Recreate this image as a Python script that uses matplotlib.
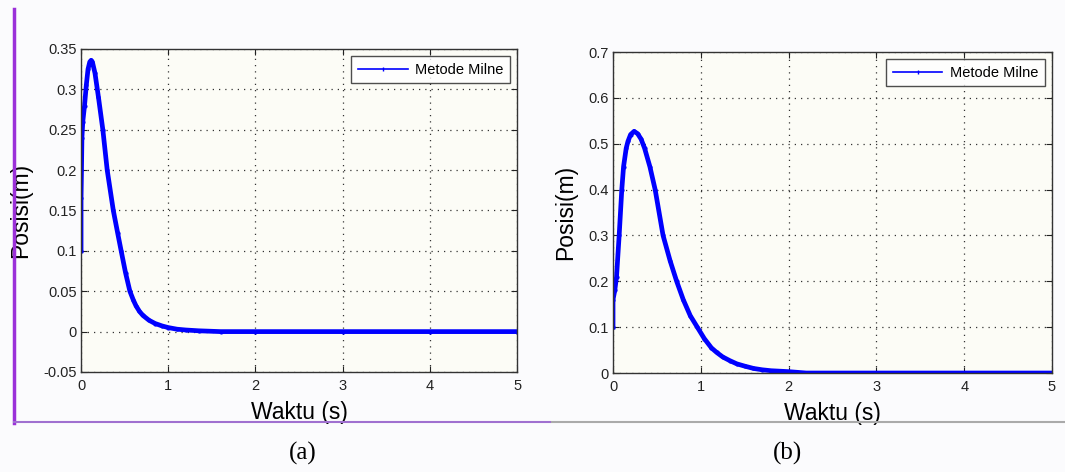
import numpy as np
import matplotlib
matplotlib.use('Agg')
import matplotlib.pyplot as plt
from matplotlib.lines import Line2D

plt.rcParams['font.family'] = ['Liberation Sans', 'DejaVu Sans']

# Panel (a): position vs time
t_a = [0.0, 0.0, 0.005, 0.01, 0.02, 0.04, 0.06, 0.08, 0.10, 0.115, 0.13,
       0.16, 0.20, 0.25, 0.30, 0.37, 0.42, 0.46, 0.51, 0.56, 0.60, 0.63, 0.67,
       0.71, 0.78, 0.85, 0.93, 1.0, 1.1, 1.2, 1.35, 1.6, 2.0, 3.0, 4.0, 5.0]
y_a = [0.10, 0.165, 0.20, 0.24, 0.26, 0.28, 0.305, 0.325, 0.334, 0.336, 0.334,
       0.32, 0.29, 0.25, 0.20, 0.15, 0.122, 0.10, 0.073, 0.05, 0.039, 0.032, 0.025,
       0.020, 0.014, 0.010, 0.007, 0.005, 0.003, 0.002, 0.001, 0.0, 0.0, 0.0, 0.0, 0.0]

# Panel (b)
t_b = [0.0, 0.0, 0.02, 0.04, 0.07, 0.10, 0.12, 0.15, 0.17, 0.20, 0.24,
       0.28, 0.32, 0.36, 0.42, 0.48, 0.57, 0.65, 0.725, 0.80, 0.88, 0.96,
       1.04, 1.12, 1.18, 1.25, 1.33, 1.41, 1.5, 1.6, 1.7, 1.8, 1.9, 2.0, 2.2,
       3.0, 4.0, 5.0]
y_b = [0.10, 0.16, 0.18, 0.21, 0.30, 0.40, 0.45, 0.49, 0.505, 0.52, 0.527,
       0.522, 0.51, 0.49, 0.45, 0.40, 0.30, 0.245, 0.20, 0.16, 0.125, 0.10,
       0.075, 0.055, 0.045, 0.035, 0.027, 0.02, 0.015, 0.01, 0.007, 0.005, 0.004,
       0.003, 0.0, 0.0, 0.0, 0.0]

x_ticks = [0, 1, 2, 3, 4, 5]
y_ticks_a = [-0.05, 0, 0.05, 0.1, 0.15, 0.2, 0.25, 0.3, 0.35]
y_tick_labels_a = ['-0.05', '0', '0.05', '0.1', '0.15', '0.2', '0.25', '0.3', '0.35']
y_ticks_b = [0, 0.1, 0.2, 0.3, 0.4, 0.5, 0.6, 0.7]
y_tick_labels_b = ['0', '0.1', '0.2', '0.3', '0.4', '0.5', '0.6', '0.7']

fig = plt.figure(figsize=(10.65, 4.72), dpi=100)
fig.patch.set_facecolor('#fbfbfd')


def draw_panel(ax, t, y, yticks, ylabels, ylim):
    ax.set_facecolor('#fcfcf6')
    ax.plot(t, y, color='#0000ff', linewidth=3.4, marker='.', markersize=4,
            solid_joinstyle='round', label='Metode Milne')
    ax.set_xlim(0, 5)
    ax.set_ylim(*ylim)
    ax.set_xticks(x_ticks)
    ax.set_xticklabels([str(v) for v in x_ticks])
    ax.set_yticks(yticks)
    ax.set_yticklabels(ylabels)
    ax.tick_params(direction='in', top=True, right=True, length=4,
                   labelsize=10.5, colors='#222222', width=0.8)
    ax.tick_params(axis='x', pad=5)
    ax.tick_params(axis='y', pad=3)
    ax.grid(True, linestyle=(0, (1, 4)), color='#333333', linewidth=0.9)
    for s in ax.spines.values():
        s.set_color('#333333')
        s.set_linewidth(1.0)
    ax.set_xlabel('Waktu (s)', fontsize=16.5, labelpad=6)
    ax.set_ylabel('Posisi(m)', fontsize=16.5, labelpad=8)
    leg = ax.legend(loc='upper right', fontsize=10.5, frameon=True, fancybox=False,
                    handlelength=3.4, borderpad=0.45, borderaxespad=0.5,
                    handletextpad=0.5)
    leg.get_frame().set_edgecolor('#222222')
    leg.get_frame().set_facecolor('white')
    leg.get_frame().set_linewidth(1.0)
    leg.get_lines()[0].set_linewidth(1.2)
    leg.get_lines()[0].set_marker('|')
    leg.get_lines()[0].set_markersize(3)


ax1 = fig.add_axes([0.0761, 0.2119, 0.4094, 0.6843])
draw_panel(ax1, t_a, y_a, y_ticks_a, y_tick_labels_a, (-0.05, 0.35))

ax2 = fig.add_axes([0.5756, 0.2097, 0.4122, 0.6801])
draw_panel(ax2, t_b, y_b, y_ticks_b, y_tick_labels_b, (0, 0.7))

# frame lines around the panels
fig.add_artist(Line2D([14 / 1065, 14 / 1065], [1 - 9 / 472, 1 - 423 / 472],
                      color='#9b30d9', linewidth=2.5, transform=fig.transFigure))
fig.add_artist(Line2D([14 / 1065, 550 / 1065], [1 - 422 / 472, 1 - 422 / 472],
                      color='#a070d0', linewidth=1.5, transform=fig.transFigure))
fig.add_artist(Line2D([552 / 1065, 1.0], [1 - 422 / 472, 1 - 422 / 472],
                      color='#aaaaaa', linewidth=1.5, transform=fig.transFigure))

fig.text(303 / 1065, 1 - 453 / 472, '(a)', fontsize=18, ha='center', va='center',
         family=['Liberation Serif', 'DejaVu Serif'])
fig.text(788 / 1065, 1 - 453 / 472, '(b)', fontsize=18, ha='center', va='center',
         family=['Liberation Serif', 'DejaVu Serif'])

fig.savefig('out.png', dpi=100, facecolor=fig.get_facecolor())
